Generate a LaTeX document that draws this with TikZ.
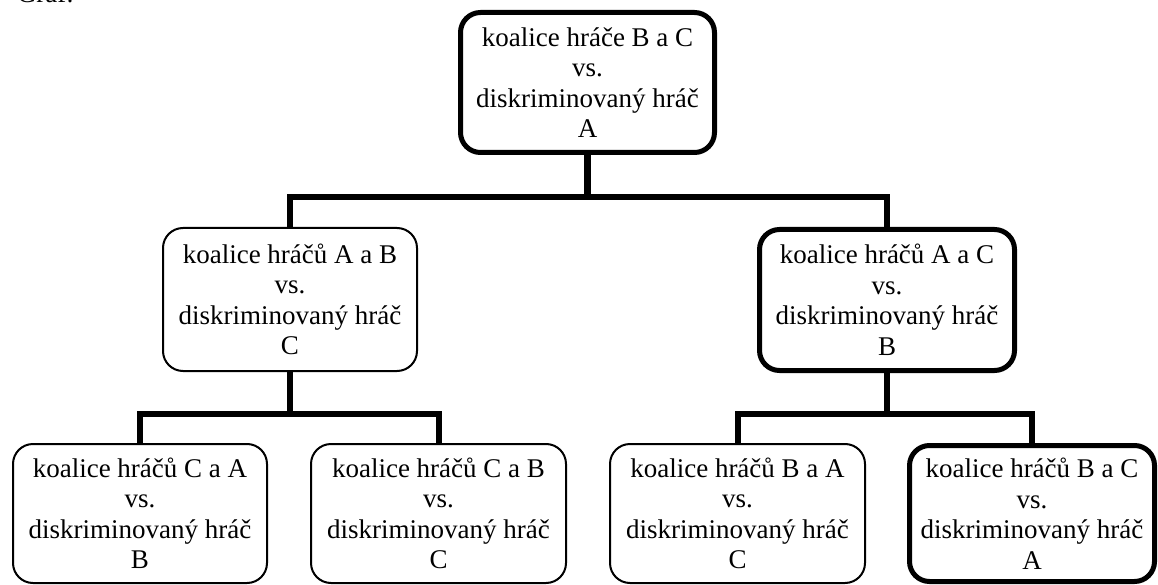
\documentclass[tikz,border=0pt]{standalone}
\usepackage{fontspec}
\setmainfont{Liberation Serif}
\begin{document}
\begin{tikzpicture}[x=1pt,y=-1pt,
  every node/.style={inner sep=0pt,outer sep=0pt},
  txt/.style={font=\fontsize{27}{30.5}\selectfont},
  box/.style={txt,draw=black,rounded corners=20pt,align=center},
  thinbox/.style={box,line width=2pt},
  thickbox/.style={box,line width=5pt},
  conn/.style={draw=black,line width=6.5pt,line join=miter},
  connlow/.style={conn,line width=6pt}]
\useasboundingbox (0,0) rectangle (1158,585);
\clip (0,0) rectangle (1158,585);

% caption above the chart
\node[txt,anchor=base west] (title) at (17,3) {Graf:};

% root
\node[thickbox,minimum width=254pt,minimum height=140pt] (root) at (587.5,82.5)
  {koalice hráče B a C\\vs.\\diskriminovaný hráč\\A};

% second level
\node[thinbox,minimum width=254pt,minimum height=143pt] (lmid) at (290,299.5)
  {koalice hráčů A a B\\vs.\\diskriminovaný hráč\\C};
\node[thickbox,minimum width=255pt,minimum height=141pt] (rmid) at (887,300)
  {koalice hráčů A a C\\vs.\\diskriminovaný hráč\\B};

% third level
\node[thinbox,minimum width=254pt,minimum height=139pt] (b1) at (140,513.5)
  {koalice hráčů C a A\\vs.\\diskriminovaný hráč\\B};
\node[thinbox,minimum width=255pt,minimum height=139pt] (b2) at (438.5,513.5)
  {koalice hráčů C a B\\vs.\\diskriminovaný hráč\\C};
\node[thinbox,minimum width=255pt,minimum height=139pt] (b3) at (737.5,513.5)
  {koalice hráčů B a A\\vs.\\diskriminovaný hráč\\C};
\node[thickbox,minimum width=245pt,minimum height=136pt] (b4) at (1032,513.5)
  {koalice hráčů B a C\\vs.\\diskriminovaný hráč\\A};

% junctions of the elbow connectors
\coordinate (j1) at (587.5,197);
\coordinate (j2) at (290,413.5);
\coordinate (j3) at (887,413.5);

\draw[conn] (root.south) -- (j1);
\draw[conn] (lmid.north) |- (j1) -| (rmid.north);

\draw[connlow] (lmid.south) -- (j2);
\draw[connlow] (b1.north) |- (j2) -| (b2.north);

\draw[connlow] (rmid.south) -- (j3);
\draw[connlow] (b3.north) |- (j3) -| (b4.north);
\end{tikzpicture}
\end{document}
